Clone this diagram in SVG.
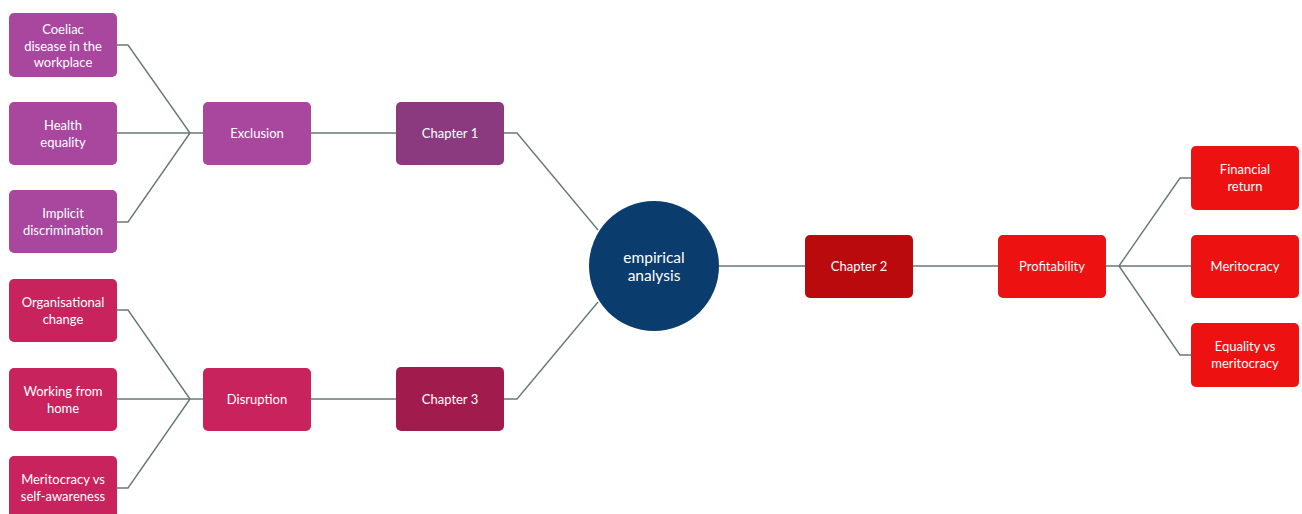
<svg xmlns="http://www.w3.org/2000/svg" width="1302" height="514" viewBox="0 0 1302 514">
  <style>
    .t { font-family: Lato, "Liberation Sans", sans-serif; font-size: 13px; fill: #ffffff; text-anchor: middle; }
    .tc { font-family: Lato, "Liberation Sans", sans-serif; font-size: 15.5px; fill: #ffffff; text-anchor: middle; }
    .c1 { fill: #a9479f; }
    .c1d { fill: #8b3a80; }
    .c3 { fill: #c8235c; }
    .c3d { fill: #a11c4c; }
    .c2 { fill: #ee1111; }
    .c2d { fill: #bb0a0e; }
    .link { fill: none; stroke: #697878; stroke-width: 1.4; }
  </style>
  <rect width="1302" height="514" fill="#ffffff"/>

  <!-- connectors -->
  <g id="connectors">
    <path class="link" d="M117,45 H128 L190,133 M117,133 H203 M117,222 H128 L190,133"/>
    <path class="link" d="M311,133 H396"/>
    <path class="link" d="M117,310 H128 L190,399 M117,399 H203 M117,488 H128 L190,399"/>
    <path class="link" d="M311,399 H396"/>
    <path class="link" d="M504,133 H517 L598,230"/>
    <path class="link" d="M504,399 H517 L598,302"/>
    <path class="link" d="M719,266 H805"/>
    <path class="link" d="M913,266 H998"/>
    <path class="link" d="M1106,266 H1119 L1180,178 H1191 M1119,266 H1191 M1119,266 L1180,355 H1191"/>
  </g>

  <!-- chapter 1 branch -->
  <g id="coeliac">
    <rect class="c1" x="9" y="13" width="108" height="64" rx="5"/>
    <text class="t" x="63" y="34">Coeliac</text>
    <text class="t" x="63" y="51">disease in the</text>
    <text class="t" x="63" y="67">workplace</text>
  </g>
  <g id="health-equality">
    <rect class="c1" x="9" y="102" width="108" height="63" rx="5"/>
    <text class="t" x="63" y="130">Health</text>
    <text class="t" x="63" y="147">equality</text>
  </g>
  <g id="implicit-discrimination">
    <rect class="c1" x="9" y="190" width="108" height="63" rx="5"/>
    <text class="t" x="63" y="218">Implicit</text>
    <text class="t" x="63" y="235">discrimination</text>
  </g>
  <g id="exclusion">
    <rect class="c1" x="203" y="102" width="108" height="63" rx="5"/>
    <text class="t" x="257" y="138">Exclusion</text>
  </g>
  <g id="chapter-1">
    <rect class="c1d" x="396" y="102" width="108" height="63" rx="5"/>
    <text class="t" x="450" y="138">Chapter 1</text>
  </g>

  <!-- chapter 3 branch -->
  <g id="organisational-change">
    <rect class="c3" x="9" y="279" width="108" height="63" rx="5"/>
    <text class="t" x="63" y="307">Organisational</text>
    <text class="t" x="63" y="324">change</text>
  </g>
  <g id="working-from-home">
    <rect class="c3" x="9" y="368" width="108" height="63" rx="5"/>
    <text class="t" x="63" y="396">Working from</text>
    <text class="t" x="63" y="413">home</text>
  </g>
  <g id="meritocracy-self-awareness">
    <rect class="c3" x="9" y="456" width="108" height="63" rx="5"/>
    <text class="t" x="63" y="484">Meritocracy vs</text>
    <text class="t" x="63" y="501">self-awareness</text>
  </g>
  <g id="disruption">
    <rect class="c3" x="203" y="368" width="108" height="63" rx="5"/>
    <text class="t" x="257" y="404">Disruption</text>
  </g>
  <g id="chapter-3">
    <rect class="c3d" x="396" y="367" width="108" height="64" rx="5"/>
    <text class="t" x="450" y="404">Chapter 3</text>
  </g>

  <!-- central topic -->
  <g id="empirical-analysis">
    <circle cx="654" cy="266" r="65" fill="#0b3c6e"/>
    <text class="tc" x="654" y="263">empirical</text>
    <text class="tc" x="654" y="281">analysis</text>
  </g>

  <!-- chapter 2 branch -->
  <g id="chapter-2">
    <rect class="c2d" x="805" y="235" width="108" height="63" rx="5"/>
    <text class="t" x="859" y="271">Chapter 2</text>
  </g>
  <g id="profitability">
    <rect class="c2" x="998" y="235" width="108" height="63" rx="5"/>
    <text class="t" x="1052" y="271">Profitability</text>
  </g>
  <g id="financial-return">
    <rect class="c2" x="1191" y="146" width="108" height="64" rx="5"/>
    <text class="t" x="1245" y="174">Financial</text>
    <text class="t" x="1245" y="191">return</text>
  </g>
  <g id="meritocracy">
    <rect class="c2" x="1191" y="235" width="108" height="63" rx="5"/>
    <text class="t" x="1245" y="271">Meritocracy</text>
  </g>
  <g id="equality-meritocracy">
    <rect class="c2" x="1191" y="323" width="108" height="64" rx="5"/>
    <text class="t" x="1245" y="351">Equality vs</text>
    <text class="t" x="1245" y="368">meritocracy</text>
  </g>
</svg>
